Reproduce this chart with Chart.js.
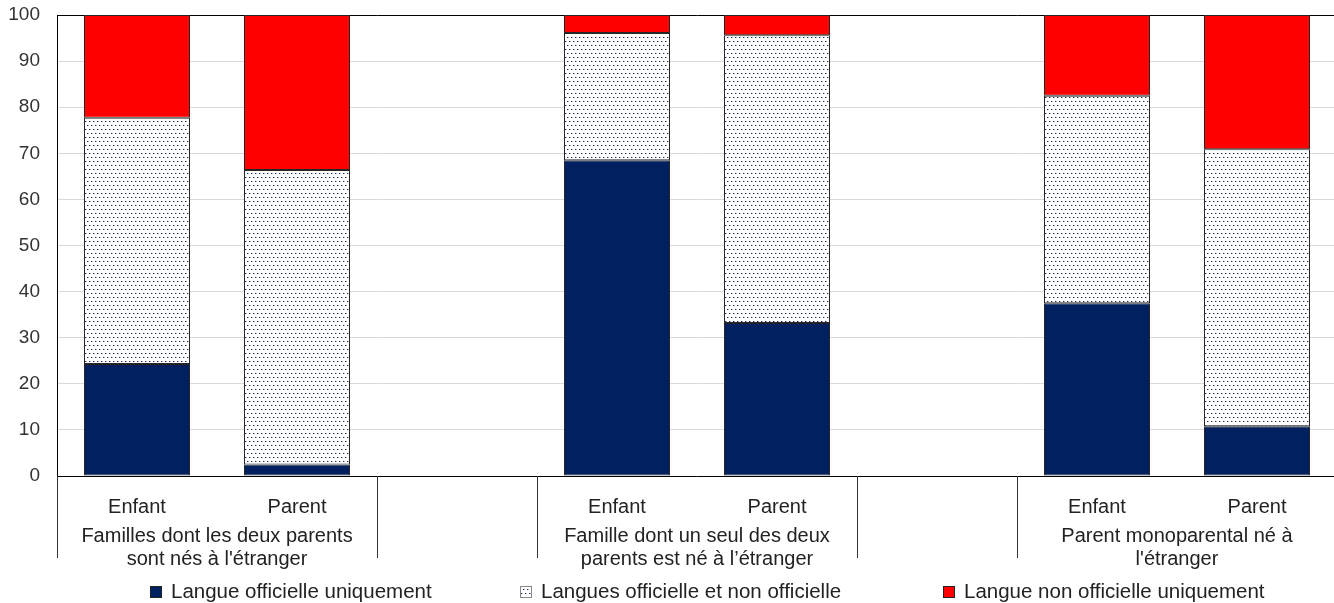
<!DOCTYPE html>
<html><head><meta charset="utf-8">
<script src="https://cdn.jsdelivr.net/npm/chart.js@4.4.1/dist/chart.umd.min.js"></script>
<style>
html,body{margin:0;padding:0;overflow:hidden;background:#fff;width:1334px;height:603px}
#wrap{position:relative;width:1340px;height:603px}
</style>
</head><body><div id="wrap"><canvas id="c"></canvas></div>
<script>
// ---- data ----
const categories = ['Enfant', 'Parent', '', 'Enfant', 'Parent', '', 'Enfant', 'Parent'];
const groupLabels = [
  ['Familles dont les deux parents', "sont nés à l'étranger"],
  ['Famille dont un seul des deux', 'parents est né à l’étranger'],
  ['Parent monoparental né à', "l'étranger"]
];
const groupStarts = [0, 3, 6];
const seriesNames = ['Langue officielle uniquement', 'Langues officielle et non officielle', 'Langue non officielle uniquement'];
const officialOnly    = [24.3,  2.5, null, 68.5, 33.2, null, 37.5, 10.8];
const bothLanguages   = [53.4, 63.9, null, 27.6, 62.4, null, 45.0, 60.1];
const nonOfficialOnly = [22.3, 33.6, null,  3.9,  4.4, null, 17.5, 29.1];
const yMin = 0, yMax = 100, yStep = 10;

// ---- styles ----
const FONT = '"Liberation Sans", Arial, sans-serif';
const NAVY = '#002060', RED = '#FF0000';
function dotPattern() {
  const c = document.createElement('canvas');
  c.width = 4; c.height = 8;
  const g = c.getContext('2d');
  g.fillStyle = '#ffffff'; g.fillRect(0, 0, 4, 8);
  g.fillStyle = '#1c2a66';
  g.fillRect(1, 1, 1, 1);
  g.fillRect(3, 5, 1, 1);
  g.fillStyle = '#a7aecb';
  g.fillRect(2, 1, 1, 1);
  g.fillRect(0, 5, 1, 1);
  return g.createPattern(c, 'repeat');
}
const DOTS = dotPattern();

const groupPlugin = {
  id: 'groups',
  afterDraw(chart) {
    const ctx = chart.ctx, x = chart.scales.x;
    const slot = x.width / categories.length;
    const top = x.top;
    ctx.save();
    ctx.strokeStyle = '#333';
    ctx.lineWidth = 1;
    groupStarts.forEach((s, gi) => {
      const left = x.getPixelForValue(s) - slot / 2;
      const right = x.getPixelForValue(s + 1) + slot / 2;
      [left, right].forEach(px => {
        const p = Math.round(px) + 0.5;
        ctx.beginPath(); ctx.moveTo(p, top); ctx.lineTo(p, top + 82); ctx.stroke();
      });
      const cx = (x.getPixelForValue(s) + x.getPixelForValue(s + 1)) / 2;
      ctx.fillStyle = '#222';
      ctx.font = '20px ' + FONT;
      ctx.textAlign = 'center';
      ctx.textBaseline = 'alphabetic';
      groupLabels[gi].forEach((line, li) => ctx.fillText(line, cx, top + 66 + li * 23));
    });
    // legend
    const boxX = [150, 520, 943];
    const fills = [NAVY, DOTS, RED];
    const borders = ['#222', '#888', '#222'];
    ctx.font = '20.5px ' + FONT;
    ctx.textAlign = 'left';
    chart.data.datasets.forEach((ds, i) => {
      ctx.fillStyle = fills[i];
      ctx.fillRect(boxX[i], 586, 12, 12);
      ctx.strokeStyle = borders[i];
      ctx.strokeRect(boxX[i] + 0.5, 586.5, 11, 11);
      ctx.fillStyle = '#222';
      ctx.fillText(ds.label, boxX[i] + 21, 598);
    });
    ctx.restore();
  }
};

const common = { borderColor: '#262626', borderWidth: 1, borderSkipped: false, barPercentage: 1, categoryPercentage: 0.6625 };
new Chart(document.getElementById('c'), {
  type: 'bar',
  data: {
    labels: categories,
    datasets: [
      Object.assign({ label: seriesNames[0], data: officialOnly, backgroundColor: NAVY }, common),
      Object.assign({ label: seriesNames[1], data: bothLanguages, backgroundColor: DOTS }, common),
      Object.assign({ label: seriesNames[2], data: nonOfficialOnly, backgroundColor: RED }, common)
    ]
  },
  options: {
    responsive: true,
    maintainAspectRatio: false,
    animation: false,
    events: [],
    layout: { padding: { top: 15, right: 3, left: 0, bottom: 0 } },
    plugins: { legend: { display: false }, tooltip: { enabled: false } },
    scales: {
      x: {
        stacked: true,
        offset: true,
        grid: { display: false },
        border: { display: true, color: '#000', width: 1 },
        ticks: { font: { family: FONT, size: 20 }, color: '#222', padding: 11, maxRotation: 0, autoSkip: false },
        afterFit(s) { s.height = 127; s.paddingLeft = 0; s.paddingRight = 0; }
      },
      y: {
        stacked: true,
        min: yMin, max: yMax,
        grid: { color: c => (c.tick && c.tick.value === yMax) ? '#000' : '#d9d9d9', drawTicks: false, lineWidth: 1 },
        border: { display: true, color: '#000', width: 1 },
        ticks: { stepSize: yStep, font: { family: FONT, size: 19 }, color: '#333', padding: 17 },
        afterFit(s) { s.width = 57; s.paddingTop = 0; s.paddingBottom = 0; }
      }
    }
  },
  plugins: [groupPlugin]
});
</script>
</body></html>
